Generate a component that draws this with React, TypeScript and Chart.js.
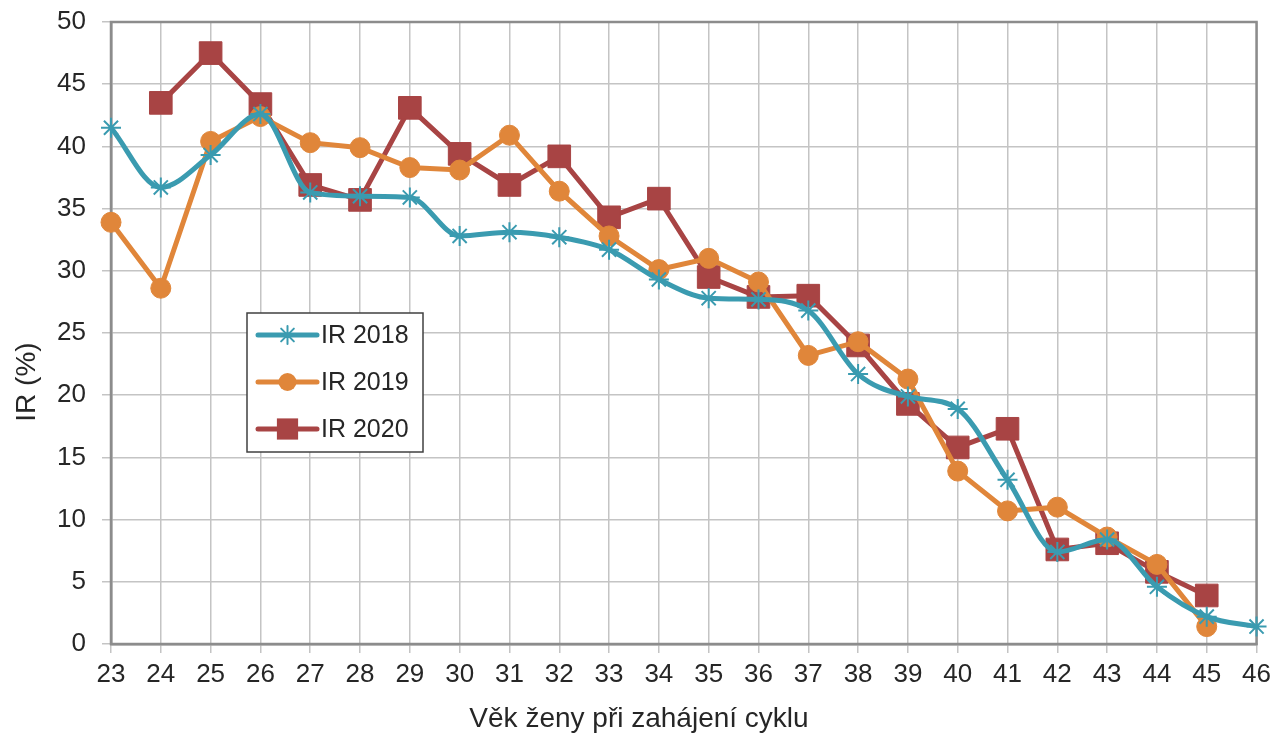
import React, { useEffect, useRef } from "react";
import { Chart, registerables } from "chart.js";

Chart.register(...registerables);

const ages = ["23","24","25","26","27","28","29","30","31","32","33","34","35","36","37","38","39","40","41","42","43","44","45","46"];

const ir2018 = [41.5, 36.7, 39.3, 42.6, 36.3, 36.0, 35.9, 32.8, 33.1, 32.7, 31.7, 29.3, 27.8, 27.7, 26.8, 21.7, 19.9, 18.9, 13.2, 7.4, 8.4, 4.6, 2.2, 1.4];
const ir2019 = [33.9, 28.6, 40.4, 42.4, 40.3, 39.9, 38.3, 38.1, 40.9, 36.4, 32.8, 30.1, 31.0, 29.1, 23.2, 24.3, 21.3, 13.9, 10.7, 11.0, 8.6, 6.4, 1.4, null];
const ir2020 = [null, 43.5, 47.5, 43.4, 36.9, 35.7, 43.1, 39.4, 36.9, 39.2, 34.3, 35.8, 29.5, 27.9, 28.0, 24.0, 19.3, 15.8, 17.3, 7.6, 8.1, 5.8, 3.9, null];

const yTicks = [0, 5, 10, 15, 20, 25, 30, 35, 40, 45, 50];
const xTitle = "Věk ženy při zahájení cyklu";
const yTitle = "IR (%)";

const FONT = "'Liberation Sans', Arial, sans-serif";
const TEXT = "#262626";

function drawMarker(ctx: CanvasRenderingContext2D, style: string, x: number, y: number, r: number, color: string) {
  ctx.save();
  ctx.fillStyle = color;
  ctx.strokeStyle = color;
  ctx.lineWidth = 2;
  if (style === "circle") {
    ctx.beginPath();
    ctx.arc(x, y, r, 0, Math.PI * 2);
    ctx.fill();
  } else if (style === "rect") {
    const s = r * Math.SQRT1_2;
    ctx.fillRect(x - s, y - s, 2 * s, 2 * s);
  } else {
    ctx.beginPath();
    ctx.moveTo(x - r, y); ctx.lineTo(x + r, y);
    ctx.moveTo(x, y - r); ctx.lineTo(x, y + r);
    const d = r * Math.SQRT1_2;
    ctx.moveTo(x - d, y - d); ctx.lineTo(x + d, y + d);
    ctx.moveTo(x - d, y + d); ctx.lineTo(x + d, y - d);
    ctx.stroke();
  }
  ctx.restore();
}

const framePlugin = {
  id: "frame",
  beforeDatasetsDraw(chart: any) {
    const { ctx, chartArea } = chart;
    ctx.save();
    ctx.strokeStyle = "#8c8c8c";
    ctx.lineWidth = 2.5;
    ctx.strokeRect(chartArea.left, chartArea.top, chartArea.right - chartArea.left, chartArea.bottom - chartArea.top);
    ctx.restore();
  },
};

const titlesPlugin = {
  id: "titles",
  afterDraw(chart: any) {
    const { ctx } = chart;
    ctx.save();
    ctx.fillStyle = TEXT;
    ctx.font = `28px ${FONT}`;
    ctx.textAlign = "center";
    ctx.textBaseline = "middle";
    ctx.fillText(xTitle, 639, 719);
    ctx.translate(27, 382);
    ctx.rotate(-Math.PI / 2);
    ctx.fillText(yTitle, 0, 0);
    ctx.restore();
  },
};

const legendPlugin = {
  id: "boxLegend",
  afterDraw(chart: any) {
    const { ctx } = chart;
    const bx = 247, by = 313, bw = 176, bh = 139;
    ctx.save();
    ctx.fillStyle = "#ffffff";
    ctx.fillRect(bx, by, bw, bh);
    ctx.strokeStyle = "#404040";
    ctx.lineWidth = 1.5;
    ctx.strokeRect(bx, by, bw, bh);
    const rows = [335, 382, 429];
    chart.data.datasets.forEach((ds: any, i: number) => {
      const y = rows[i];
      ctx.strokeStyle = ds.borderColor;
      ctx.lineWidth = 5;
      ctx.lineCap = "round";
      ctx.beginPath();
      ctx.moveTo(258, y);
      ctx.lineTo(317, y);
      ctx.stroke();
      drawMarker(ctx, ds.pointStyle, 287.5, y, ds.pointStyle === "rect" ? 15 : 9, ds.borderColor);
      ctx.fillStyle = TEXT;
      ctx.font = `25px ${FONT}`;
      ctx.textAlign = "left";
      ctx.textBaseline = "middle";
      ctx.fillText(ds.label, 321, y + 1);
    });
    ctx.restore();
  },
};

export default function App() {
  const ref = useRef<HTMLCanvasElement | null>(null);

  useEffect(() => {
    if (!ref.current) return;
    const chart = new Chart(ref.current, {
      type: "line",
      data: {
        labels: ages,
        datasets: [
          {
            label: "IR 2018",
            data: ir2018,
            borderColor: "#3a9bb0",
            backgroundColor: "#3a9bb0",
            borderWidth: 5,
            cubicInterpolationMode: "monotone",
            pointStyle: "star",
            pointRadius: 10,
            pointBorderWidth: 2,
            pointBorderColor: "#3a9bb0",
          },
          {
            label: "IR 2019",
            data: ir2019,
            borderColor: "#e0863a",
            backgroundColor: "#e0863a",
            borderWidth: 5,
            tension: 0,
            pointStyle: "circle",
            pointRadius: 10,
            pointBorderWidth: 1,
          },
          {
            label: "IR 2020",
            data: ir2020,
            borderColor: "#a84444",
            backgroundColor: "#a84444",
            borderWidth: 5,
            tension: 0,
            pointStyle: "rect",
            pointRadius: 16,
            pointBorderWidth: 1,
          },
        ],
      },
      options: {
        animation: false,
        responsive: true,
        maintainAspectRatio: false,
        spanGaps: false,
        layout: { padding: { top: 22, right: 20, left: 0, bottom: 0 } },
        plugins: {
          legend: { display: false },
          tooltip: { enabled: false },
        },
        scales: {
          x: {
            type: "category",
            offset: false,
            grid: { color: "#c4c4c4", lineWidth: 1.5, tickLength: 9, offset: false },
            border: { color: "#8c8c8c", width: 2.5 },
            ticks: { color: TEXT, font: { family: FONT, size: 26 }, padding: 6, maxRotation: 0, autoSkip: false },
            afterFit(scale: any) { scale.height = 93; },
          },
          y: {
            min: 0,
            max: 50,
            afterBuildTicks(scale: any) { scale.ticks = yTicks.map((v) => ({ value: v })); },
            grid: { color: "#c4c4c4", lineWidth: 1.5, tickLength: 9 },
            border: { color: "#8c8c8c", width: 2.5 },
            ticks: { color: TEXT, font: { family: FONT, size: 26 }, padding: 16 },
            afterFit(scale: any) { scale.width = 111; scale.paddingTop = 0; scale.paddingBottom = 0; },
          },
        },
      },
      plugins: [framePlugin, titlesPlugin, legendPlugin],
    });
    return () => chart.destroy();
  }, []);

  return (
    <div style={{ position: "absolute", left: 0, top: 0, width: 1277, height: 737, background: "#ffffff" }}>
      <canvas ref={ref} />
    </div>
  );
}
